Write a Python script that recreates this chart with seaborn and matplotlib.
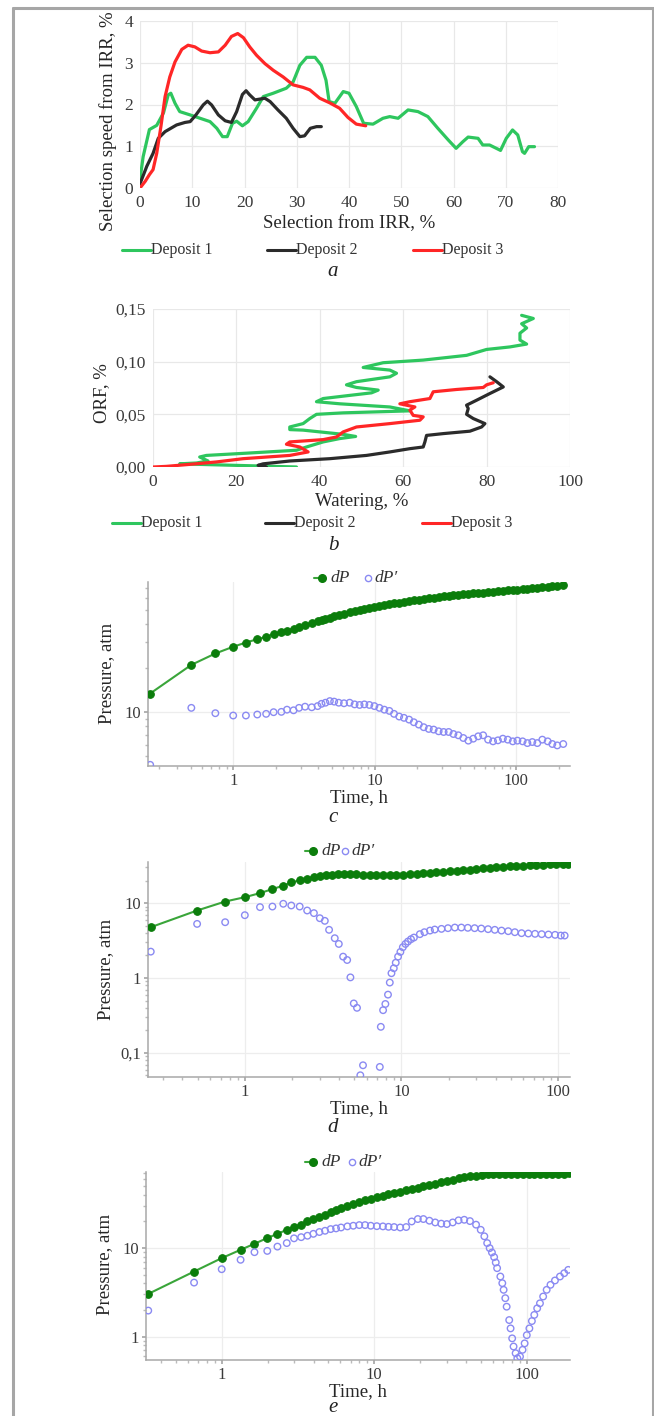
import numpy as np
import pandas as pd
import seaborn as sns
import matplotlib.pyplot as plt
from matplotlib.lines import Line2D
from matplotlib.ticker import FuncFormatter, NullFormatter, LogLocator, MultipleLocator

# ---------------- panel a: selection speed vs selection ----------------
a_x1 = [0, 0.6, 1.8, 3.2, 4.5, 5.4, 5.9, 6.7, 7.6, 9.6, 11.5, 13.4, 14.7, 15.8, 16.7, 17.7, 18.5, 19.6,
        20.7, 22.3, 23.6, 25.5, 28.0, 29.3, 30.6, 31.9, 33.5, 34.7, 35.6, 36.2, 37.3, 38.9, 40.0, 41.4,
        42.8, 44.6, 46.5, 47.8, 49.4, 51.3, 53.2, 55.1, 57.0, 59.0, 60.5, 61.8, 62.8, 64.7, 65.6, 66.9,
        68.2, 69.0, 70.1, 71.3, 72.3, 73.2, 73.6, 74.4, 75.5]
a_y1 = [0.2, 0.75, 1.4, 1.5, 1.8, 2.23, 2.27, 2.03, 1.83, 1.75, 1.67, 1.59, 1.43, 1.23, 1.23, 1.55, 1.6, 1.49,
        1.59, 1.91, 2.19, 2.27, 2.39, 2.54, 2.94, 3.13, 3.13, 2.94, 2.58, 2.07, 2.03, 2.31, 2.27, 1.95,
        1.55, 1.53, 1.67, 1.71, 1.67, 1.87, 1.83, 1.71, 1.43, 1.15, 0.95, 1.11, 1.22, 1.19, 1.03, 1.03,
        0.95, 0.9, 1.19, 1.39, 1.27, 0.87, 0.83, 0.99, 0.99]
a_x2 = [0, 1.3, 2.5, 3.5, 4.8, 7.0, 8.6, 9.6, 10.7, 12.1, 12.9, 13.7, 15.0, 16.3, 17.5, 18.5, 19.6, 20.3,
        21.0, 22.0, 23.9, 24.9, 26.4, 28.0, 29.3, 30.6, 31.5, 32.6, 33.8, 34.7]
a_y2 = [0.1, 0.52, 0.83, 1.19, 1.35, 1.51, 1.57, 1.59, 1.75, 1.99, 2.08, 1.99, 1.75, 1.61, 1.57, 1.83, 2.24,
        2.33, 2.23, 2.11, 2.15, 2.07, 1.87, 1.67, 1.43, 1.23, 1.25, 1.43, 1.47, 1.47]
a_x3 = [0, 1.0, 1.8, 2.5, 3.2, 4.0, 4.8, 5.7, 6.7, 8.0, 9.2, 10.5, 11.8, 13.4, 15.0, 16.3, 17.5, 18.7, 19.8,
        21.0, 22.3, 23.9, 25.5, 27.4, 29.3, 31.2, 32.5, 34.4, 36.3, 38.2, 39.8, 41.4, 43.2]
a_y3 = [0, 0.16, 0.32, 0.44, 0.83, 1.47, 2.19, 2.66, 3.02, 3.32, 3.42, 3.38, 3.28, 3.24, 3.26, 3.42, 3.63,
        3.70, 3.60, 3.38, 3.18, 2.98, 2.82, 2.66, 2.47, 2.41, 2.35, 2.15, 2.04, 1.91, 1.69, 1.53, 1.49]

# ---------------- panel b: ORF vs watering ----------------
b_x1 = [34.4, 6.4, 10.4, 13.2, 11.2, 12.8, 23.2, 34.4, 36.8, 40.8, 44.8, 48.6, 45.6, 36, 32.8, 32.8, 36,
        37.6, 39.2, 45.6, 61.6, 56.8, 44.8, 39.2, 40.8, 47.2, 52.4, 54, 48.8, 46.4, 48.8, 56.8, 58.4,
        56.8, 50.4, 55.2, 64.8, 75.2, 80, 85.6, 89.6, 88, 88, 89.6, 88.4, 91.2, 88.4]
b_y1 = [0.0, 0.003, 0.0038, 0.0057, 0.0095, 0.011, 0.0133, 0.0159, 0.019, 0.0238, 0.027, 0.029, 0.031,
        0.035, 0.0355, 0.038, 0.0412, 0.046, 0.050, 0.0514, 0.0533, 0.057, 0.060, 0.062, 0.065, 0.068,
        0.0704, 0.073, 0.0755, 0.078, 0.081, 0.0856, 0.089, 0.092, 0.0945, 0.099, 0.1015, 0.106,
        0.1116, 0.114, 0.1167, 0.1205, 0.127, 0.132, 0.136, 0.141, 0.144]
b_x2 = [27.2, 25.2, 26.4, 32.8, 42.4, 51.2, 56.8, 61.6, 64.8, 65.2, 65.6, 69.6, 76, 78.8, 79.6, 76.8, 75.2,
        75.6, 75.2, 77.6, 80.8, 84, 82.4, 80.8]
b_y2 = [0.0, 0.0016, 0.003, 0.0057, 0.0079, 0.011, 0.0143, 0.0174, 0.019, 0.0238, 0.030, 0.0317, 0.034,
        0.038, 0.0412, 0.046, 0.050, 0.0555, 0.0587, 0.0634, 0.0698, 0.076, 0.081, 0.0856]
b_x3 = [0, 3.2, 8.8, 15.2, 21.6, 32.8, 37.2, 35.2, 32, 32.8, 40.8, 44, 45.6, 48.8, 56.8, 64, 64.8, 62.4,
        61.6, 62.8, 59.2, 61.6, 66.4, 67.2, 72.8, 79.2, 80, 81.6]
b_y3 = [0, 0.0006, 0.0025, 0.0048, 0.0079, 0.011, 0.0143, 0.019, 0.0216, 0.0238, 0.026, 0.0285, 0.0333,
        0.038, 0.0412, 0.0444, 0.0476, 0.049, 0.054, 0.057, 0.060, 0.062, 0.065, 0.0714, 0.0736, 0.0755,
        0.078, 0.080]

# ---------------- panel c: pressure test 1 ----------------
c_t = [0.259, 0.506, 0.748, 1.0, 1.23, 1.48, 1.71, 1.93, 2.19, 2.40, 2.67, 2.92, 3.22, 3.59, 3.95, 4.21,
       4.49, 4.82, 5.17, 5.57, 6.07, 6.65, 7.21, 7.82, 8.45, 9.17, 9.95, 10.8, 11.7, 12.7, 13.7, 14.9,
       16.1, 17.5, 18.9, 20.5, 22.2, 24.1, 26.1, 28.3, 30.7, 33.3, 36.0, 39.0, 42.3, 45.9, 49.7, 53.9,
       58.4, 63.3, 68.6, 74.3, 80.5, 87.2, 94.6, 102, 111, 120, 130, 141, 153, 167, 180, 195, 215]
c_dp = [13.4, 21.0, 25.1, 27.9, 29.8, 31.4, 32.6, 34.0, 35.0, 35.9, 37.0, 38.2, 39.2, 40.5, 41.6, 42.4,
        43.2, 44.0, 44.9, 45.8, 46.8, 47.8, 48.7, 49.6, 50.4, 51.2, 52.0, 52.8, 53.6, 54.4, 55.1, 55.8,
        56.5, 57.2, 57.8, 58.4, 59.0, 59.6, 60.2, 60.8, 61.4, 61.9, 62.4, 62.9, 63.4, 63.9, 64.4, 64.9,
        65.3, 65.8, 66.2, 66.7, 67.1, 67.6, 68.0, 68.4, 68.9, 69.4, 69.9, 70.4, 71.0, 71.6, 72.2, 72.8, 73.6]
c_dpd = [4.38, 10.7, 9.84, 9.49, 9.49, 9.64, 9.74, 10.0, 10.05, 10.4, 10.3, 10.7, 10.9, 10.8, 11.0, 11.4,
         11.6, 11.9, 11.8, 11.6, 11.5, 11.6, 11.3, 11.2, 11.3, 11.2, 11.0, 10.7, 10.4, 10.2, 9.74, 9.34,
         9.15, 8.9, 8.54, 8.23, 7.9, 7.69, 7.61, 7.41, 7.33, 7.33, 7.1, 6.96, 6.67, 6.4, 6.6, 6.85,
         6.96, 6.5, 6.33, 6.43, 6.6, 6.5, 6.33, 6.4, 6.33, 6.16, 6.26, 6.16, 6.5, 6.33, 6.07, 5.94, 6.07]

# ---------------- panel d: pressure test 2 ----------------
d_t = [0.251, 0.496, 0.749, 1.0, 1.25, 1.50, 1.76, 1.98, 2.24, 2.50, 2.76, 3.01, 3.32, 3.62, 3.94, 4.28,
       4.68, 5.16, 5.69, 6.28, 6.92, 7.63, 8.42, 9.28, 10.2, 11.3, 12.5, 13.8, 15.2, 16.7, 18.4, 20.4,
       22.5, 24.7, 27.3, 30.1, 33.2, 36.6, 40.3, 44.5, 49.1, 54.1, 59.7, 65.8, 72.6, 80.0, 88.3, 97.3,
       107, 116]
d_dp = [4.77, 7.97, 10.5, 12.0, 13.6, 15.4, 17.1, 18.9, 20.1, 21.2, 22.1, 22.8, 23.5, 24.0, 24.5, 24.7,
        24.5, 24.2, 24.0, 23.7, 23.5, 23.5, 23.5, 23.7, 24.0, 24.2, 24.7, 25.0, 25.2, 25.7, 26.0, 26.5,
        27.1, 27.6, 27.9, 28.5, 29.1, 29.4, 30.0, 30.3, 31.0, 31.3, 31.6, 32.0, 32.3, 32.6, 33.0, 33.0,
        33.3, 33.7]
d_td = [0.251, 0.496, 0.749, 1.0, 1.25, 1.50, 1.76, 1.98, 2.24, 2.50, 2.76, 3.01, 3.24, 3.45, 3.75, 3.98,
        4.24, 4.50, 4.72, 4.96, 5.20, 5.46, 5.68, 7.27, 7.38, 7.63, 7.89, 8.2, 8.42, 8.63, 8.93, 9.19,
        9.51, 9.84, 10.2, 10.6, 11.0, 11.5, 12.0, 13.1, 14.0, 15.2, 16.3, 18.0, 19.8, 21.9, 24.1, 26.5,
        29.3, 32.3, 35.7, 39.4, 43.5, 48.0, 52.9, 58.4, 64.5, 71.2, 78.5, 86.7, 95.6, 104, 110]
d_dpd = [2.25, 5.28, 5.56, 6.9, 8.84, 9.0, 9.8, 9.3, 9.0, 7.97, 7.35, 6.29, 5.8, 4.4, 3.4, 2.85,
         1.93, 1.74, 1.02, 0.458, 0.40, 0.0503, 0.0684, 0.065, 0.223, 0.372, 0.45, 0.60, 0.87, 1.16, 1.35, 1.6,
         1.93, 2.23, 2.58, 2.85, 3.07, 3.3, 3.47, 3.85, 4.09, 4.3, 4.44, 4.53, 4.63, 4.72, 4.72, 4.68,
         4.63, 4.58, 4.49, 4.4, 4.3, 4.22, 4.09, 3.97, 3.93, 3.89, 3.85, 3.81, 3.77, 3.69, 3.69]

# ---------------- panel e: pressure test 3 ----------------
e_t = [0.33, 0.659, 1.0, 1.33, 1.64, 1.99, 2.32, 2.67, 2.98, 3.32, 3.65, 3.99, 4.37, 4.76, 5.18, 5.62,
       6.06, 6.67, 7.29, 7.98, 8.71, 9.49, 10.4, 11.4, 12.4, 13.5, 14.8, 16.2, 17.6, 19.3, 21.0, 23.0,
       25.1, 27.5, 29.9, 32.7, 35.7, 38.9, 42.4, 46.5, 50.8, 55.4, 60.5, 66.2, 72.1, 78.7, 86.0, 93.8,
       103, 112, 122, 134, 146, 160, 175, 188]
e_dp = [3.04, 5.44, 7.71, 9.57, 11.2, 13.0, 14.5, 16.1, 17.3, 18.4, 20.0, 21.3, 22.4, 23.8, 25.3, 26.7,
        28.1, 29.6, 31.2, 32.9, 34.6, 36.2, 37.8, 39.1, 40.4, 41.9, 43.4, 44.9, 46.5, 48.2, 49.9, 51.7,
        53.5, 55.4, 57.4, 59.4, 61.5, 63.1, 64.8, 65.9, 67.1, 68.2, 68.8, 69.4, 69.4, 69.4, 69.4, 69.4,
        69.4, 69.4, 69.4, 69.4, 69.4, 69.4, 69.4, 70.0]
e_td = [0.33, 0.659, 1.0, 1.33, 1.64, 1.99, 2.32, 2.67, 2.98, 3.32, 3.65, 3.99, 4.37, 4.76, 5.18, 5.62,
        6.06, 6.67, 7.29, 7.98, 8.71, 9.49, 10.4, 11.4, 12.4, 13.5, 14.8, 16.2, 17.6, 19.3, 21.0, 23.0,
        25.1, 27.5, 29.9, 32.7, 35.7, 38.9, 42.4, 46.5, 49.9, 52.7, 55.0, 57.1, 59.1, 61.1, 62.6, 63.9,
        67.1, 69.1, 70.5, 72.3, 73.8, 76.7, 78.3, 80.2, 81.9, 84.5, 86.7, 90.3, 93.8, 96.8, 100, 104,
        108, 112, 117, 122, 128, 135, 143, 153, 165, 176, 187]
e_dpd = [1.97, 4.08, 5.78, 7.38, 9.0, 9.3, 10.4, 11.4, 12.9, 13.3, 13.8, 14.5, 15.2, 15.7, 16.4, 16.7,
         17.1, 17.6, 17.9, 18.2, 18.2, 17.9, 17.7, 17.6, 17.4, 17.3, 17.1, 17.3, 20.0, 21.3, 21.3, 20.4,
         19.5, 18.9, 18.7, 19.5, 20.6, 20.9, 20.2, 18.4, 16.1, 13.6, 11.4, 10.0, 8.93, 7.91, 6.88, 5.94,
         4.78, 4.02, 3.38, 2.72, 2.18, 1.54, 1.24, 0.957, 0.774, 0.65, 0.57, 0.596, 0.71, 0.84, 1.04, 1.24,
         1.5, 1.76, 2.09, 2.38, 2.84, 3.38, 3.85, 4.31, 4.78, 5.21, 5.68]

deposit_labels = ["Deposit 1", "Deposit 2", "Deposit 3"]
deposit_colors = ["#2ec65e", "#2b2b2b", "#ff2626"]
GREEN_LINE = "#3aa53a"
GREEN_MARK = "#0b7d0b"
BLUE = "#8a8af2"

sns.set_theme(style="white")
plt.rcParams['font.family'] = ['Liberation Serif', 'DejaVu Serif']

W, H = 654, 1416
fig = plt.figure(figsize=(W / 100, H / 100), dpi=100)


def px_axes(x0, y0, x1, y1):
    return fig.add_axes([x0 / W, 1 - y1 / H, (x1 - x0) / W, (y1 - y0) / H])


def comma(v, pos):
    return f"{v:g}".replace('.', ',')


def style_lin(ax):
    for s in ax.spines.values():
        s.set_visible(False)
    ax.grid(True, color="#e8e8e8", lw=0.9)
    ax.tick_params(length=0, labelsize=12.5, labelcolor="#3a3a3a", pad=5)


def style_log(ax, ylab_x, ylab_y):
    for s in ["top", "right"]:
        ax.spines[s].set_visible(False)
    for s in ["left", "bottom"]:
        ax.spines[s].set_color("#a8a8a8")
        ax.spines[s].set_linewidth(1.1)
    ax.grid(True, which="major", color="#ededed", lw=0.9)
    ax.tick_params(which="major", length=3, color="#a8a8a8", labelsize=12, labelcolor="#3a3a3a", pad=2)
    ax.tick_params(which="minor", length=2, color="#bbbbbb", left=True, bottom=True)
    ax.tick_params(left=True, bottom=True)
    ax.xaxis.set_major_formatter(FuncFormatter(comma))
    ax.yaxis.set_major_formatter(FuncFormatter(comma))
    ax.xaxis.set_minor_formatter(NullFormatter())
    ax.yaxis.set_minor_formatter(NullFormatter())
    ax.set_xlabel("Time, h", fontsize=13.5, labelpad=0)
    ax.set_ylabel("Pressure, atm", fontsize=13.5)
    ax.yaxis.set_label_coords(ylab_x, ylab_y)


def deposit_legend(y, xs):
    for lab, col, x in zip(deposit_labels, deposit_colors, xs):
        fig.add_artist(Line2D([x / W, (x + 29) / W], [1 - y / H] * 2, color=col, lw=2.2))
        fig.text((x + 29) / W, 1 - y / H, lab, fontsize=11.5, color="#333333", va="center", ha="left")


def dp_legend(y, x_dp, x_dpd):
    fig.add_artist(Line2D([(x_dp - 8) / W, (x_dp + 2) / W], [1 - y / H] * 2, color=GREEN_LINE, lw=1.5))
    fig.add_artist(Line2D([x_dp / W], [1 - y / H], marker="o", ms=5.5, color=GREEN_MARK, ls="none"))
    fig.text((x_dp + 8) / W, 1 - y / H, "dP", fontsize=12.5, style="italic", va="center", color="#333333")
    fig.add_artist(Line2D([x_dpd / W], [1 - y / H], marker="o", ms=4.5, mfc="none", mec=BLUE, mew=1,
                          ls="none"))
    fig.text((x_dpd + 6) / W, 1 - y / H, "dP\u2032", fontsize=12.5, style="italic", va="center", color="#333333")


def panel_letter(y, s):
    fig.text(333 / W, 1 - y / H, s, fontsize=15, style="italic", ha="center", va="center", color="#222222")


# ---------------- a ----------------
ax = px_axes(140, 21, 558, 188)
for xs, ys, col in zip([a_x1, a_x2, a_x3], [a_y1, a_y2, a_y3], deposit_colors):
    sns.lineplot(x=xs, y=ys, ax=ax, color=col, lw=2.3, sort=False, estimator=None)
ax.set_xlim(0, 80)
ax.set_ylim(0, 4)
ax.xaxis.set_major_locator(MultipleLocator(10))
ax.yaxis.set_major_locator(MultipleLocator(1))
style_lin(ax)
ax.set_xlabel("Selection from IRR, %", fontsize=13.5, labelpad=3)
ax.set_ylabel("Selection speed from IRR, %", fontsize=13.5)
ax.yaxis.set_label_coords(-23 / 418, 0.40)
deposit_legend(250, [122, 267, 413])
panel_letter(272, "a")

# ---------------- b ----------------
ax = px_axes(153, 309, 570, 467)
for xs, ys, col in zip([b_x1, b_x2, b_x3], [b_y1, b_y2, b_y3], deposit_colors):
    sns.lineplot(x=xs, y=ys, ax=ax, color=col, lw=2.3, sort=False, estimator=None)
ax.set_xlim(0, 100)
ax.set_ylim(0, 0.15)
ax.xaxis.set_major_locator(MultipleLocator(20))
ax.yaxis.set_major_locator(MultipleLocator(0.05))
ax.yaxis.set_major_formatter(FuncFormatter(lambda v, p: f"{v:.2f}".replace('.', ',')))
style_lin(ax)
ax.set_xlabel("Watering, %", fontsize=13.5, labelpad=2)
ax.set_ylabel("ORF, %", fontsize=13.5)
ax.yaxis.set_label_coords(-43 / 417, 0.47)
deposit_legend(523, [112, 265, 422])
panel_letter(545, "b")

# ---------------- c, d, e ----------------
panels = [
    ((148, 582, 570, 766), c_t, c_dp, c_t, c_dpd, (0.25, 240), (4.3, 77), 578, (322, 368), 818, "c",
     (-33 / 422, 0.505)),
    ((148, 862, 570, 1077), d_t, d_dp, d_td, d_dpd, (0.241, 119), (0.0477, 35.4), 851, (313, 345), 1127, "d",
     (-34 / 422, 0.50)),
    ((146, 1172, 570, 1360), e_t, e_dp, e_td, e_dpd, (0.319, 192), (0.545, 72.4), 1162, (313, 352), 1407, "e",
     (-33 / 424, 0.51)),
]
for box, t1, v1, t2, v2, xl, yl, ly, lx, py, letter, ylc in panels:
    ax = px_axes(*box)
    ax.set_xscale("log")
    ax.set_yscale("log")
    sns.lineplot(x=t1, y=v1, ax=ax, color=GREEN_LINE, lw=1.5, marker="o", markersize=5.5,
                 markerfacecolor=GREEN_MARK, markeredgecolor=GREEN_MARK, sort=False, estimator=None,
                 zorder=3)
    sns.scatterplot(x=t2, y=v2, ax=ax, marker="o", s=22, facecolor="none", edgecolor=BLUE,
                    linewidth=1.0, zorder=4)
    ax.set_xlim(*xl)
    ax.set_ylim(*yl)
    ax.xaxis.set_major_locator(LogLocator(base=10))
    ax.yaxis.set_major_locator(LogLocator(base=10))
    ax.xaxis.set_minor_locator(LogLocator(base=10, subs=np.arange(2, 10)))
    ax.yaxis.set_minor_locator(LogLocator(base=10, subs=np.arange(2, 10)))
    style_log(ax, *ylc)
    dp_legend(ly, *lx)
    panel_letter(py, letter)

# outer frame
fc = "#a6a6a6"
fig.add_artist(Line2D([13 / W, 13 / W], [0, 1 - 8 / H], color=fc, lw=2.2))
fig.add_artist(Line2D([13 / W, 653 / W], [1 - 8 / H] * 2, color=fc, lw=2.2))
fig.add_artist(Line2D([653 / W, 653 / W], [0, 1 - 8 / H], color=fc, lw=2.2))

fig.savefig("out.png", dpi=100)
